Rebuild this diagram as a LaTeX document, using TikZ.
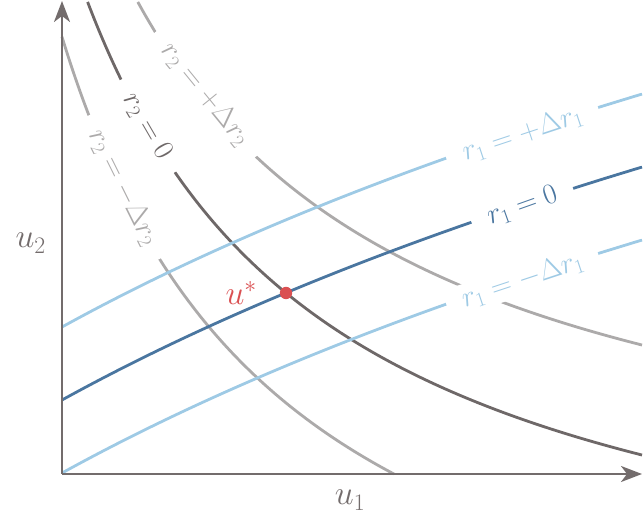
\RequirePackage{fix-cm}
\documentclass[tikz,border=0pt]{standalone}
\usetikzlibrary{arrows.meta}
\definecolor{cdark}{RGB}{110,104,104}
\definecolor{clight}{RGB}{172,170,170}
\definecolor{cblue}{RGB}{74,118,160}
\definecolor{clblue}{RGB}{158,202,229}
\definecolor{cred}{RGB}{218,80,82}
\definecolor{caxis}{RGB}{115,108,108}
\begin{document}
\begin{tikzpicture}[x=1bp,y=1bp,
  curve/.style={line width=2.8bp},
  lab/.style={fill=white, inner xsep=0pt, inner ysep=3bp, font=\fontsize{29}{34}\selectfont},
  longlab/.style={lab, minimum width=160bp},
  shortlab/.style={lab, minimum width=107bp},
  ulab/.style={inner sep=0pt, font=\fontsize{34}{40}\selectfont},
  axis/.style={line width=2.4bp, draw=caxis, -{Stealth[length=21bp,width=16bp,inset=6bp]}}]
\useasboundingbox (-62,-53) rectangle (582,474);
\coordinate (O) at (0,0);
\coordinate (xend) at (580,0);
\coordinate (yend) at (0,473);
% r2 curves
\draw[curve, clight] plot[domain=75.8:580, samples=100, smooth] (\x,{1640/(\x+224)*100-75});
\draw[curve, cdark] plot[domain=25.6:580, samples=100, smooth] (\x,{1640/(\x+224)*100-185});
\draw[curve, clight] plot[domain=0:331.9, samples=100, smooth] (\x,{1640/(\x+224)*100-295});
% r1 curves
\draw[curve, clblue] plot[domain=0:580, samples=80, smooth] (\x,{147+386*ln(1+\x/700)});
\draw[curve, cblue] plot[domain=0:580, samples=80, smooth] (\x,{74+386*ln(1+\x/700)});
\draw[curve, clblue] plot[domain=0:580, samples=80, smooth] (\x,{1+386*ln(1+\x/700)});
% labels
\node[longlab, text=clight, rotate=-50.8] (l2p) at (143.5,379.5) {$r_2 = +\Delta r_2$};
\node[shortlab, text=cdark, rotate=-59.9] (l20) at (85,347.5) {$r_2 = 0$};
\node[longlab, text=clight, rotate=-63.6] (l2m) at (61.5,286.5) {$r_2 = -\Delta r_2$};
\node[longlab, text=clblue, rotate=18.3] (l1p) at (460.5,340) {$r_1 = +\Delta r_1$};
\node[shortlab, text=cblue, rotate=19.6] (l10) at (460.5,268) {$r_1 = 0$};
\node[longlab, text=clblue, rotate=18.3] (l1m) at (460.5,194) {$r_1 = -\Delta r_1$};
% axes
\draw[axis] (O) -- (xend);
\draw[axis] (O) -- (yend);
\node[ulab, text=caxis, anchor=base] (u1) at (288,-31) {$u_1$};
\node[ulab, text=caxis, anchor=base east] (u2) at (-16,226) {$u_2$};
% optimum
\fill[cred] (224,181) circle (6.2bp) coordinate (ustar);
\node[ulab, text=cred, anchor=base east] (ustarlab) at (195,169) {$u^*$};
\end{tikzpicture}
\end{document}
